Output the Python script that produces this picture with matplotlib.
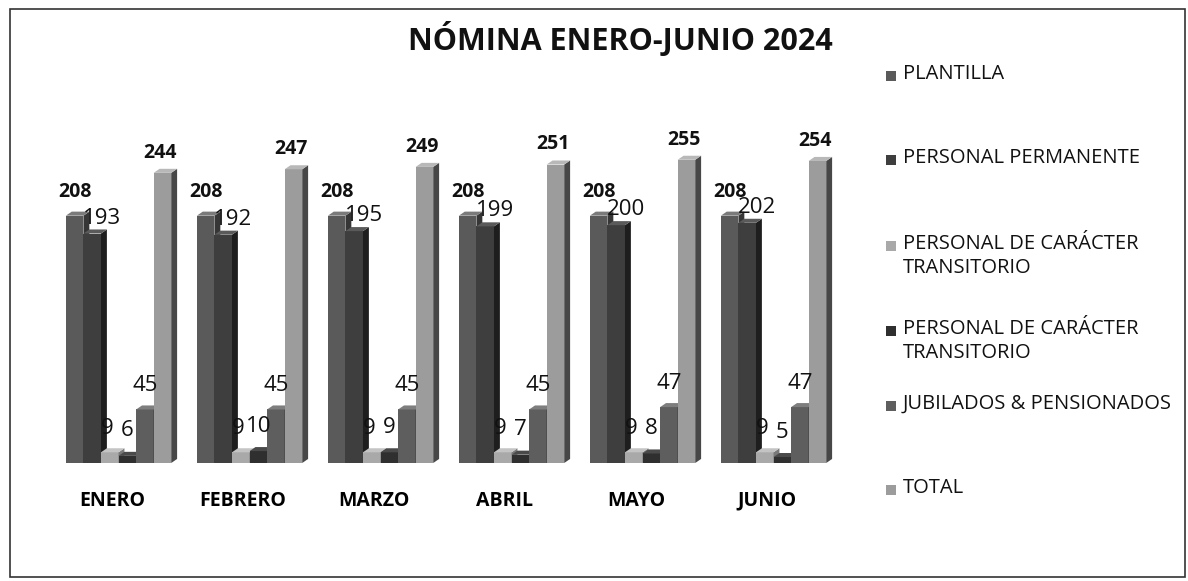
import numpy as np
import matplotlib
matplotlib.use('Agg')
import matplotlib.pyplot as plt
from matplotlib.patches import Polygon, Rectangle

plt.rcParams['font.family'] = ['Open Sans', 'DejaVu Sans']

months = ['ENERO', 'FEBRERO', 'MARZO', 'ABRIL', 'MAYO', 'JUNIO']
series_names = ['PLANTILLA', 'PERSONAL PERMANENTE', 'PERSONAL DE CARÁCTER\nTRANSITORIO',
                'PERSONAL DE CARÁCTER\nTRANSITORIO', 'JUBILADOS & PENSIONADOS', 'TOTAL']
plantilla = [208, 208, 208, 208, 208, 208]
permanente = [193, 192, 195, 199, 200, 202]
transitorio_a = [9, 9, 9, 9, 9, 9]
transitorio_b = [6, 10, 9, 7, 8, 5]
jubilados = [45, 45, 45, 45, 47, 47]
total = [244, 247, 249, 251, 255, 254]

series = [plantilla, permanente, transitorio_a, transitorio_b, jubilados, total]
front = ['#5a5a5a', '#3e3e3e', '#a9a9a9', '#2f2f2f', '#5e5e5e', '#9c9c9c']
side = ['#363636', '#1e1e1e', '#7a7a7a', '#151515', '#333333', '#474747']
top = ['#7a7a7a', '#5a5a5a', '#c4c4c4', '#4a4a4a', '#7e7e7e', '#b8b8b8']

# label style per series: (dx in bar widths, dy above value, bold, size)
lab = [(0.0, 20, True, 14), (0.55, 13, False, 16), (-0.15, 20, False, 16),
       (0.0, 21, False, 16), (0.0, 20, False, 16), (-0.15, 17, True, 14)]

fig = plt.figure(figsize=(11.88, 5.81), dpi=100)
ax = fig.add_axes([46.5 / 1188, 118 / 581, 786 / 1188, 0.614])

x = np.arange(len(months))
w = 0.134
dx, dy = 0.045, 3.4
for i, vals in enumerate(series):
    xs = x + (i - 2.5) * w + 0.05
    ax.bar(xs, vals, width=w, color=front[i], edgecolor='none', zorder=3)
    for xc, v in zip(xs, vals):
        r = xc + w / 2
        l = xc - w / 2
        ax.add_patch(Polygon([(r, 0), (r + dx, dy), (r + dx, v + dy), (r, v)],
                             closed=True, facecolor=side[i], edgecolor='none', zorder=3))
        ax.add_patch(Polygon([(l, v), (l + dx, v + dy), (r + dx, v + dy), (r, v)],
                             closed=True, facecolor=top[i], edgecolor='none', zorder=3))
        ox, oy, bold, size = lab[i]
        ax.text(xc + ox * w, v + oy, str(v), ha='center', va='center',
                fontsize=size, fontweight='bold' if bold else 'normal', color='#111111', zorder=5)

ax.set_xlim(-0.5, 5.5)
ax.set_ylim(0, 300)
ax.set_xticks(x)
ax.set_xticklabels(months, fontsize=14, fontweight='bold')
ax.tick_params(axis='x', length=0, pad=20)
ax.set_yticks([])
for s in ax.spines.values():
    s.set_visible(False)

fig.text(620 / 1188, 1 - 39 / 581, 'NÓMINA ENERO-JUNIO 2024', ha='center', va='center',
         fontsize=22, fontweight='bold', color='#111111')

# legend
leg_y = [76, 160, 246, 331, 406, 490]
for name, c, yy in zip(series_names, front, leg_y):
    fig.patches.append(Rectangle((886 / 1188, 1 - (yy + 5) / 581), 10 / 1188, 10 / 581,
                                 transform=fig.transFigure, facecolor=c, edgecolor='none'))
    fig.text(903 / 1188, 1 - (yy - 12) / 581, name, ha='left', va='top', fontsize=14.5,
             color='#111111', linespacing=1.25)

fig.patches.append(Rectangle((10 / 1188, 4 / 581), 1175 / 1188, 568 / 581,
                             transform=fig.transFigure, fill=False, edgecolor='#333333', lw=1.2))

fig.savefig('out.png', dpi=100, facecolor='white')
